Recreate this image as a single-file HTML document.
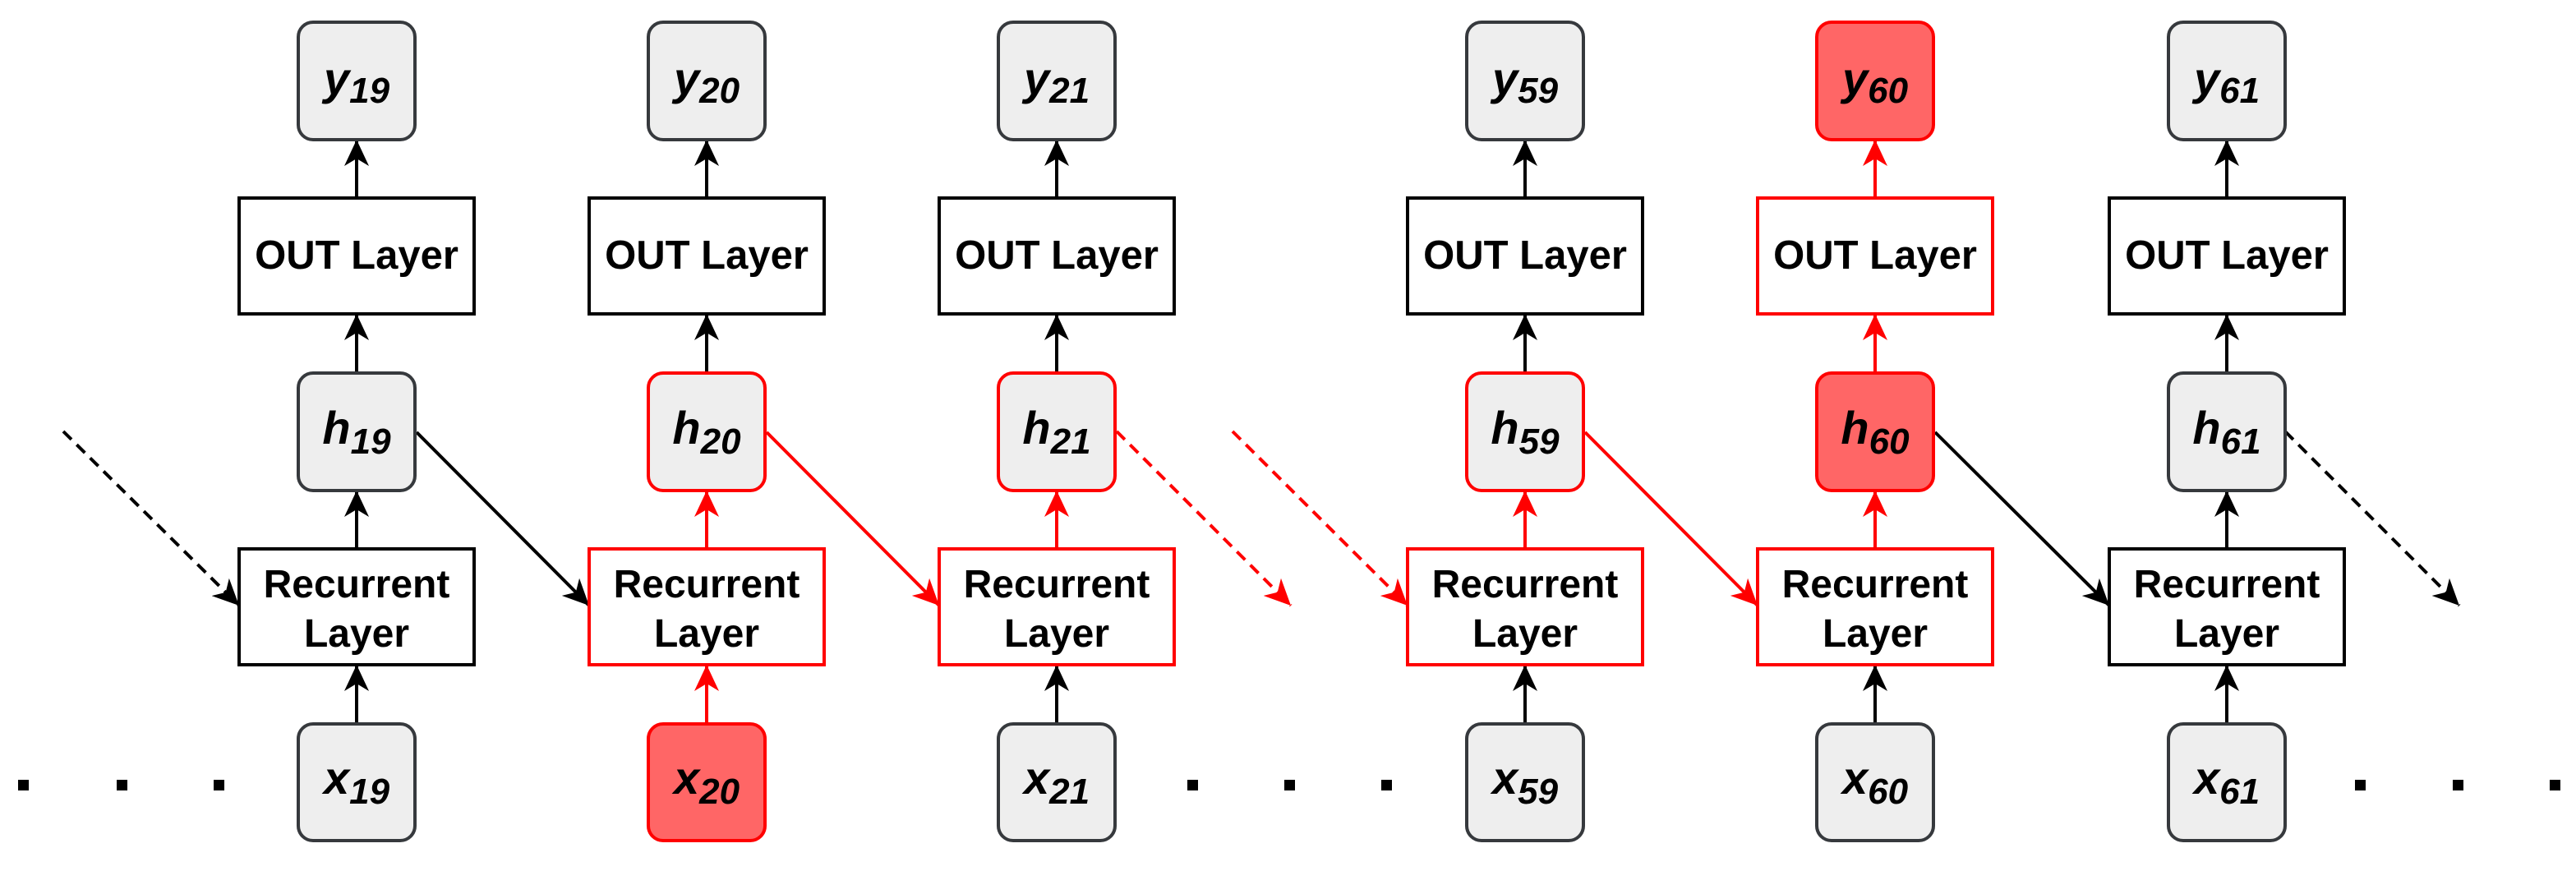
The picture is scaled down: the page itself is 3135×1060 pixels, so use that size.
<!DOCTYPE html>
<html><head><meta charset="utf-8"><style>
html,body{margin:0;padding:0;background:#fff;}
svg{display:block;}
.t{font-family:"Liberation Sans",Arial,sans-serif;font-weight:bold;fill:#000;text-anchor:middle;}
.v{font-family:"Liberation Sans",Arial,sans-serif;font-weight:bold;font-style:italic;fill:#000;text-anchor:middle;font-size:56px;}
.v tspan{font-size:44px;}
.g{fill:#eeeeee;stroke:#36393d;stroke-width:4;}
.gr{fill:#eeeeee;stroke:#ff0000;stroke-width:4;}
.rf{fill:#ff6666;stroke:#ff0000;stroke-width:4;}
.b{fill:#fff;stroke:#000;stroke-width:4;}
.br{fill:#fff;stroke:#ff0000;stroke-width:4;}
.lk{stroke:#000;stroke-width:4;fill:none;marker-end:url(#ak);}
.lr{stroke:#ff0000;stroke-width:4;fill:none;marker-end:url(#ar);}
.d{stroke-dasharray:14 9;}
</style></head><body>
<svg width="3135" height="1060" viewBox="0 0 3135 1060" xmlns="http://www.w3.org/2000/svg">
<defs>
<marker id="ak" markerUnits="userSpaceOnUse" viewBox="0 0 32 30" refX="32" refY="15" markerWidth="32" markerHeight="30" orient="auto"><path d="M0,0 L32,15 L0,30 L9,15 Z" fill="#000"/></marker>
<marker id="ar" markerUnits="userSpaceOnUse" viewBox="0 0 32 30" refX="32" refY="15" markerWidth="32" markerHeight="30" orient="auto"><path d="M0,0 L32,15 L0,30 L9,15 Z" fill="#ff0000"/></marker>
</defs>

<!-- dots -->
<g fill="#000">
<rect x="22" y="949" width="13" height="13"/><rect x="142" y="949" width="13" height="13"/><rect x="260" y="949" width="13" height="13"/>
<rect x="1445" y="949" width="13" height="13"/><rect x="1563" y="949" width="13" height="13"/><rect x="1681" y="949" width="13" height="13"/>
<rect x="2866" y="949" width="13" height="13"/><rect x="2985" y="949" width="13" height="13"/><rect x="3103" y="949" width="13" height="13"/>
</g>

<!-- diagonal connectors -->
<line class="lk d" x1="77" y1="525" x2="291" y2="737"/>
<line class="lk" x1="507" y1="526" x2="717" y2="737"/>
<line class="lr" x1="933" y1="526" x2="1143" y2="737"/>
<line class="lr d" x1="1359" y1="525" x2="1571" y2="737"/>
<line class="lr d" x1="1500" y1="525" x2="1713" y2="737"/>
<line class="lr" x1="1929" y1="526" x2="2139" y2="737"/>
<line class="lk" x1="2355" y1="526" x2="2567" y2="737"/>
<line class="lk d" x1="2781" y1="525" x2="2993" y2="737"/>

<!-- vertical connectors: col cx = 434, 860, 1286, 1856, 2282, 2710 -->
<!-- col1 -->
<line class="lk" x1="434" y1="241" x2="434" y2="170"/>
<line class="lk" x1="434" y1="454" x2="434" y2="382"/>
<line class="lk" x1="434" y1="668" x2="434" y2="597"/>
<line class="lk" x1="434" y1="881" x2="434" y2="809"/>
<!-- col2 -->
<line class="lk" x1="860" y1="241" x2="860" y2="170"/>
<line class="lk" x1="860" y1="454" x2="860" y2="382"/>
<line class="lr" x1="860" y1="668" x2="860" y2="597"/>
<line class="lr" x1="860" y1="881" x2="860" y2="809"/>
<!-- col3 -->
<line class="lk" x1="1286" y1="241" x2="1286" y2="170"/>
<line class="lk" x1="1286" y1="454" x2="1286" y2="382"/>
<line class="lr" x1="1286" y1="668" x2="1286" y2="597"/>
<line class="lk" x1="1286" y1="881" x2="1286" y2="809"/>
<!-- col4 -->
<line class="lk" x1="1856" y1="241" x2="1856" y2="170"/>
<line class="lk" x1="1856" y1="454" x2="1856" y2="382"/>
<line class="lr" x1="1856" y1="668" x2="1856" y2="597"/>
<line class="lk" x1="1856" y1="881" x2="1856" y2="809"/>
<!-- col5 -->
<line class="lr" x1="2282" y1="241" x2="2282" y2="170"/>
<line class="lr" x1="2282" y1="454" x2="2282" y2="382"/>
<line class="lr" x1="2282" y1="668" x2="2282" y2="597"/>
<line class="lk" x1="2282" y1="881" x2="2282" y2="809"/>
<!-- col6 -->
<line class="lk" x1="2710" y1="241" x2="2710" y2="170"/>
<line class="lk" x1="2710" y1="454" x2="2710" y2="382"/>
<line class="lk" x1="2710" y1="668" x2="2710" y2="597"/>
<line class="lk" x1="2710" y1="881" x2="2710" y2="809"/>

<!-- COLUMN 1 -->
<rect class="g" x="363" y="27" width="142" height="143" rx="18"/>
<text class="v" x="434" y="115">y<tspan dy="10">19</tspan></text>
<rect class="b" x="291" y="241" width="286" height="141"/>
<text class="t" x="434" y="327" font-size="49">OUT Layer</text>
<rect class="g" x="363" y="454" width="142" height="143" rx="18"/>
<text class="v" x="434" y="540">h<tspan dy="12">19</tspan></text>
<rect class="b" x="291" y="668" width="286" height="141"/>
<text class="t" x="434" y="727" font-size="48">Recurrent</text>
<text class="t" x="434" y="787" font-size="48">Layer</text>
<rect class="g" x="363" y="881" width="142" height="142" rx="18"/>
<text class="v" x="434" y="966">x<tspan dy="12">19</tspan></text>

<!-- COLUMN 2 -->
<rect class="g" x="789" y="27" width="142" height="143" rx="18"/>
<text class="v" x="860" y="115">y<tspan dy="10">20</tspan></text>
<rect class="b" x="717" y="241" width="286" height="141"/>
<text class="t" x="860" y="327" font-size="49">OUT Layer</text>
<rect class="gr" x="789" y="454" width="142" height="143" rx="18"/>
<text class="v" x="860" y="540">h<tspan dy="12">20</tspan></text>
<rect class="br" x="717" y="668" width="286" height="141"/>
<text class="t" x="860" y="727" font-size="48">Recurrent</text>
<text class="t" x="860" y="787" font-size="48">Layer</text>
<rect class="rf" x="789" y="881" width="142" height="142" rx="18"/>
<text class="v" x="860" y="966">x<tspan dy="12">20</tspan></text>

<!-- COLUMN 3 -->
<rect class="g" x="1215" y="27" width="142" height="143" rx="18"/>
<text class="v" x="1286" y="115">y<tspan dy="10">21</tspan></text>
<rect class="b" x="1143" y="241" width="286" height="141"/>
<text class="t" x="1286" y="327" font-size="49">OUT Layer</text>
<rect class="gr" x="1215" y="454" width="142" height="143" rx="18"/>
<text class="v" x="1286" y="540">h<tspan dy="12">21</tspan></text>
<rect class="br" x="1143" y="668" width="286" height="141"/>
<text class="t" x="1286" y="727" font-size="48">Recurrent</text>
<text class="t" x="1286" y="787" font-size="48">Layer</text>
<rect class="g" x="1215" y="881" width="142" height="142" rx="18"/>
<text class="v" x="1286" y="966">x<tspan dy="12">21</tspan></text>

<!-- COLUMN 4 -->
<rect class="g" x="1785" y="27" width="142" height="143" rx="18"/>
<text class="v" x="1856" y="115">y<tspan dy="10">59</tspan></text>
<rect class="b" x="1713" y="241" width="286" height="141"/>
<text class="t" x="1856" y="327" font-size="49">OUT Layer</text>
<rect class="gr" x="1785" y="454" width="142" height="143" rx="18"/>
<text class="v" x="1856" y="540">h<tspan dy="12">59</tspan></text>
<rect class="br" x="1713" y="668" width="286" height="141"/>
<text class="t" x="1856" y="727" font-size="48">Recurrent</text>
<text class="t" x="1856" y="787" font-size="48">Layer</text>
<rect class="g" x="1785" y="881" width="142" height="142" rx="18"/>
<text class="v" x="1856" y="966">x<tspan dy="12">59</tspan></text>

<!-- COLUMN 5 -->
<rect class="rf" x="2211" y="27" width="142" height="143" rx="18"/>
<text class="v" x="2282" y="115">y<tspan dy="10">60</tspan></text>
<rect class="br" x="2139" y="241" width="286" height="141"/>
<text class="t" x="2282" y="327" font-size="49">OUT Layer</text>
<rect class="rf" x="2211" y="454" width="142" height="143" rx="18"/>
<text class="v" x="2282" y="540">h<tspan dy="12">60</tspan></text>
<rect class="br" x="2139" y="668" width="286" height="141"/>
<text class="t" x="2282" y="727" font-size="48">Recurrent</text>
<text class="t" x="2282" y="787" font-size="48">Layer</text>
<rect class="g" x="2211" y="881" width="142" height="142" rx="18"/>
<text class="v" x="2282" y="966">x<tspan dy="12">60</tspan></text>

<!-- COLUMN 6 -->
<rect class="g" x="2639" y="27" width="142" height="143" rx="18"/>
<text class="v" x="2710" y="115">y<tspan dy="10">61</tspan></text>
<rect class="b" x="2567" y="241" width="286" height="141"/>
<text class="t" x="2710" y="327" font-size="49">OUT Layer</text>
<rect class="g" x="2639" y="454" width="142" height="143" rx="18"/>
<text class="v" x="2710" y="540">h<tspan dy="12">61</tspan></text>
<rect class="b" x="2567" y="668" width="286" height="141"/>
<text class="t" x="2710" y="727" font-size="48">Recurrent</text>
<text class="t" x="2710" y="787" font-size="48">Layer</text>
<rect class="g" x="2639" y="881" width="142" height="142" rx="18"/>
<text class="v" x="2710" y="966">x<tspan dy="12">61</tspan></text>
</svg>
</body></html>
